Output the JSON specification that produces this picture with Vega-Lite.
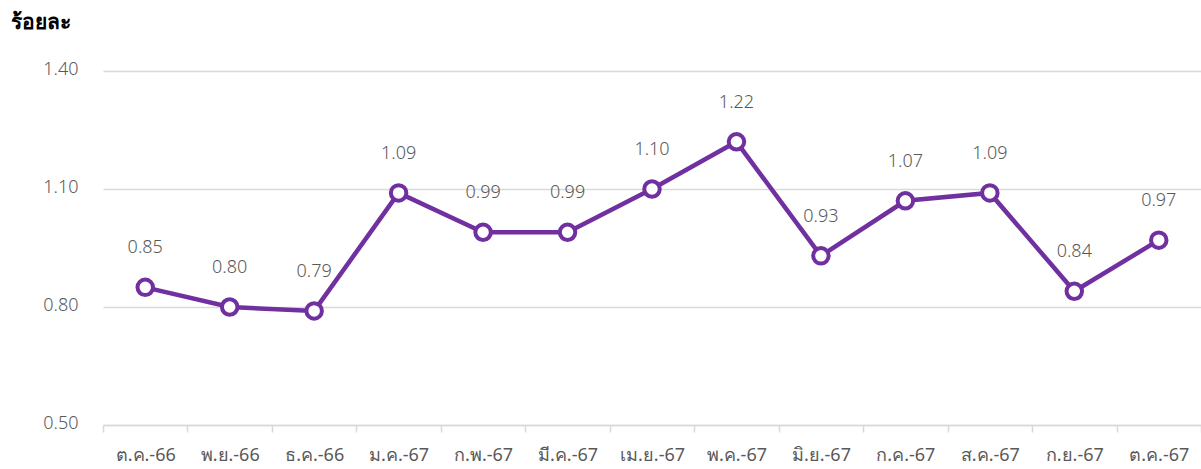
{
  "$schema": "https://vega.github.io/schema/vega-lite/v6.json",
  "width": 1098,
  "height": 354,
  "autosize": {"type": "none"},
  "padding": {"left": 103, "top": 71, "right": 0, "bottom": 44},
  "background": "white",
  "config": {"view": {"stroke": null}, "font": "Noto Sans"},
  "data": {
    "values": [
      {"m": "ต.ค.-66", "v": 0.85},
      {"m": "พ.ย.-66", "v": 0.80},
      {"m": "ธ.ค.-66", "v": 0.79},
      {"m": "ม.ค.-67", "v": 1.09},
      {"m": "ก.พ.-67", "v": 0.99},
      {"m": "มี.ค.-67", "v": 0.99},
      {"m": "เม.ย.-67", "v": 1.10},
      {"m": "พ.ค.-67", "v": 1.22},
      {"m": "มิ.ย.-67", "v": 0.93},
      {"m": "ก.ค.-67", "v": 1.07},
      {"m": "ส.ค.-67", "v": 1.09},
      {"m": "ก.ย.-67", "v": 0.84},
      {"m": "ต.ค.-67", "v": 0.97}
    ]
  },
  "encoding": {
    "x": {
      "field": "m", "type": "nominal", "sort": null,
      "scale": {"paddingInner": 0, "paddingOuter": 0},
      "axis": {
        "title": null, "labelAngle": 0, "labelFontSize": 18, "labelColor": "#595959",
        "domainColor": "#d9d9d9", "domainWidth": 1.5, "tickColor": "#d9d9d9", "tickWidth": 1.5,
        "tickSize": 7, "tickBand": "extent", "labelPadding": 14, "grid": false
      }
    },
    "y": {
      "field": "v", "type": "quantitative",
      "scale": {"domain": [0.5, 1.4], "nice": false, "zero": false},
      "axis": {
        "values": [0.5, 0.8, 1.1, 1.4], "format": ".2f",
        "labelFontSize": 18, "labelFontWeight": 300, "labelColor": "#595959", "labelPadding": 25,
        "labelBaseline": "middle", "labelOffset": -2,
        "domain": false, "ticks": false,
        "gridColor": "#d9d9d9", "gridWidth": 1.5,
        "title": "ร้อยละ", "titleAngle": 0, "titleX": -93, "titleY": -43,
        "titleAlign": "left", "titleBaseline": "alphabetic",
        "titleFontSize": 21, "titleFontWeight": "bold", "titleColor": "#000000"
      }
    }
  },
  "layer": [
    {"mark": {"type": "line", "color": "#7030A0", "strokeWidth": 4.5}},
    {"mark": {"type": "point", "shape": "circle", "filled": true, "fill": "white", "stroke": "#7030A0", "strokeWidth": 4, "size": 240, "opacity": 1}},
    {"mark": {"type": "text", "dy": -39, "baseline": "middle", "fontSize": 18, "fontWeight": 300, "color": "#595959"},
     "encoding": {"text": {"field": "v", "type": "quantitative", "format": ".2f"}}}
  ]
}
